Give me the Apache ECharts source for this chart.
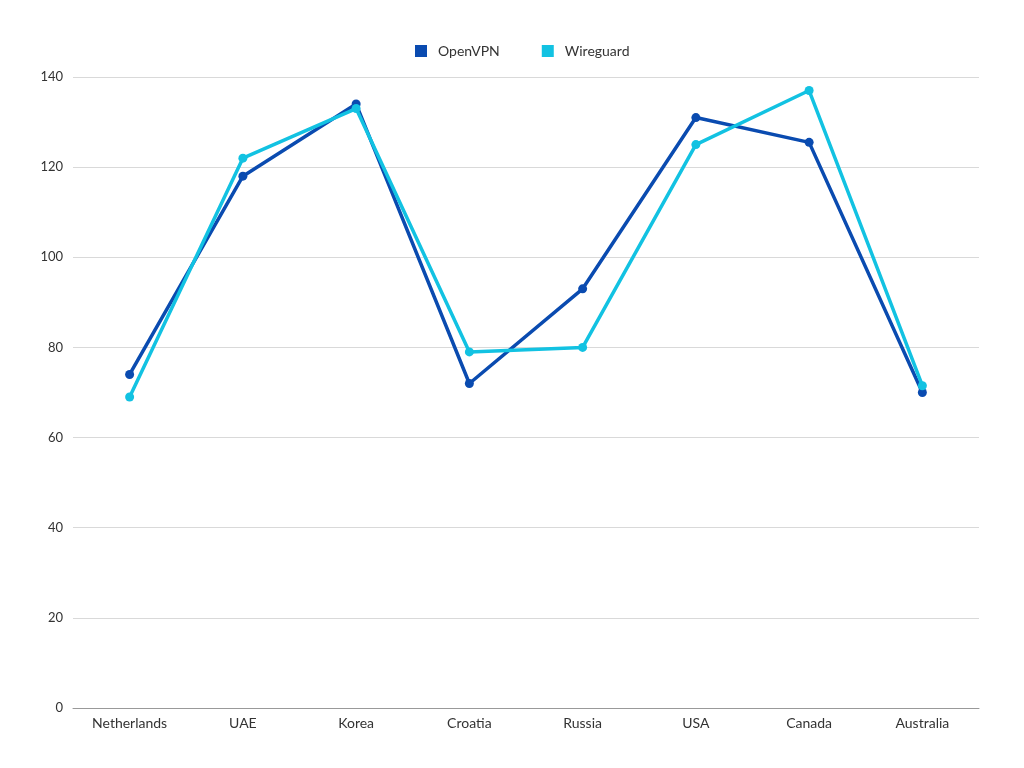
<!DOCTYPE html>
<html lang="en">
<head>
    <meta charset="UTF-8">
    <title>OpenVPN vs Wireguard</title>
    <script src="https://cdn.jsdelivr.net/npm/echarts@6/dist/echarts.min.js"></script>
    <style>
        html, body { margin: 0; padding: 0; background: #fff; }
        #chart { width: 1024px; height: 768px; }
    </style>
</head>
<body>
<div id="chart"></div>
<script type="text/javascript">
    var countries = ['Netherlands', 'UAE', 'Korea', 'Croatia', 'Russia', 'USA', 'Canada', 'Australia'];
    var openvpn = [74, 118, 134, 72, 93, 131, 125.5, 70];
    var wireguard = [69, 122, 133, 79, 80, 125, 137, 71.5];

    var chart = echarts.init(document.getElementById('chart'));
    chart.setOption({
        animation: false,
        textStyle: { fontFamily: 'Lato' },
        legend: {
            top: 39,
            left: 410,
            padding: 5,
            itemWidth: 12,
            itemHeight: 12,
            itemGap: 42,
            icon: 'rect',
            textStyle: { color: '#333', fontSize: 14, padding: [0, 0, 0, 6] },
            data: ['OpenVPN', 'Wireguard']
        },
        grid: {
            left: 73,
            right: 45,
            top: 77,
            bottom: 60
        },
        xAxis: {
            type: 'category',
            boundaryGap: true,
            data: countries,
            axisTick: { show: false },
            axisLine: { lineStyle: { color: '#999' } },
            axisLabel: { color: '#333', fontSize: 14, margin: 8 }
        },
        yAxis: {
            type: 'value',
            min: 0,
            max: 140,
            interval: 20,
            axisLine: { show: false },
            axisTick: { show: false },
            axisLabel: { color: '#333', fontSize: 13, margin: 10 },
            splitLine: { lineStyle: { color: '#d9d9d9' } }
        },
        series: [
            {
                name: 'OpenVPN',
                type: 'line',
                data: openvpn,
                symbol: 'circle',
                symbolSize: 9,
                lineStyle: { width: 3.5, color: '#0a4bb0' },
                itemStyle: { color: '#0a4bb0' }
            },
            {
                name: 'Wireguard',
                type: 'line',
                data: wireguard,
                symbol: 'circle',
                symbolSize: 9,
                lineStyle: { width: 3.5, color: '#12c2e2' },
                itemStyle: { color: '#12c2e2' }
            }
        ]
    });
</script>
</body>
</html>
